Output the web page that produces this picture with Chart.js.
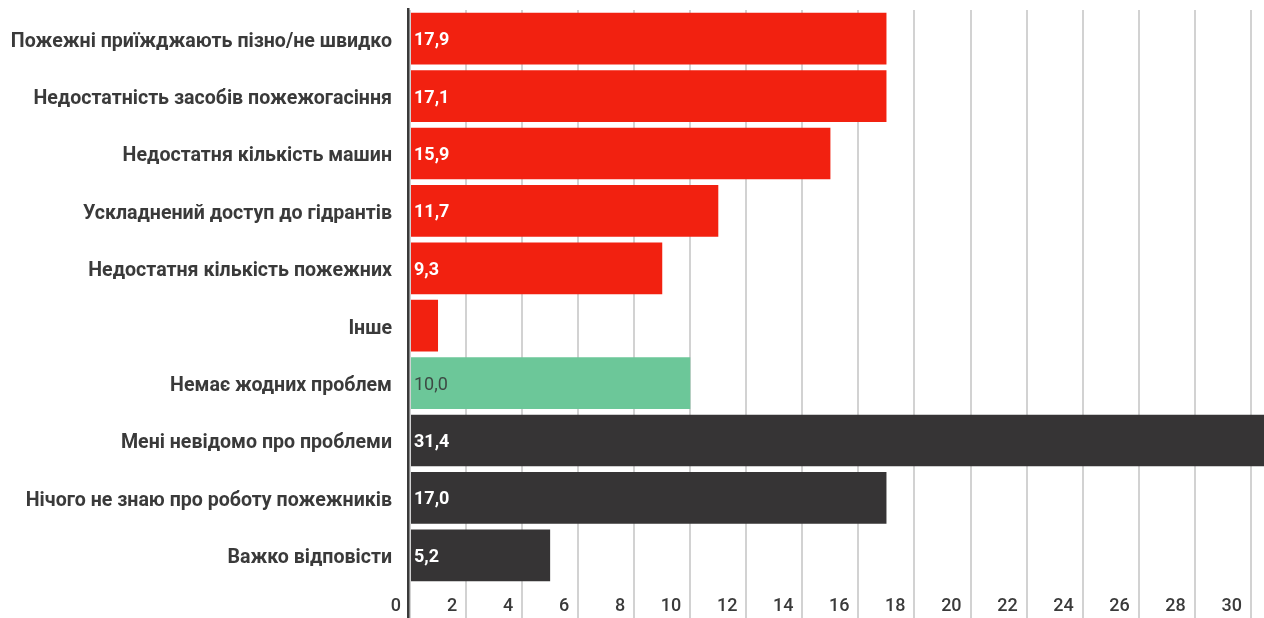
<!DOCTYPE html>
<html>
<head>
<meta charset="utf-8">
<script src="https://cdn.jsdelivr.net/npm/chart.js@4.4.1/dist/chart.umd.min.js"></script>
<style>
  html, body { margin: 0; padding: 0; background: #fff; }
  .chart-container { position: relative; width: 1264px; height: 618px; }
</style>
</head>
<body>
<div class="chart-container">
  <canvas id="fireChart"></canvas>
</div>
<script>
// категорії (зверху вниз)
const categories = [
  'Пожежні приїжджають пізно/не швидко',
  'Недостатність засобів пожежогасіння',
  'Недостатня кількість машин',
  'Ускладнений доступ до гідрантів',
  'Недостатня кількість пожежних',
  'Інше',
  'Немає жодних проблем',
  'Мені невідомо про проблеми',
  'Нічого не знаю про роботу пожежників',
  'Важко відповісти'
];

// підписи на стовпчиках, %
const shares = [17.9, 17.1, 15.9, 11.7, 9.3, null, 10.0, 31.4, 17.0, 5.2];

// довжина стовпчиків так, як вони намальовані на картинці
const barLengths = [17, 17, 15, 11, 9, 1, 10, 31.4, 17, 5];

// групи: проблема / немає проблем / не знаю
const groups = ['problem', 'problem', 'problem', 'problem', 'problem', 'problem', 'none', 'unknown', 'unknown', 'unknown'];

// підписи осі
const axisMin = 0;
const axisMax = 30.47;
const axisStep = 2;

const groupColors = { problem: '#f22110', none: '#6cc799', unknown: '#363435' };
const FONT = 'Roboto, "Noto Sans", sans-serif';

// підписи значень всередині стовпчиків + вертикальна вісь
const valueLabels = {
  id: 'valueLabels',
  afterDatasetsDraw(chart) {
    const ctx = chart.ctx;
    const meta = chart.getDatasetMeta(0);
    ctx.save();
    ctx.textBaseline = 'middle';
    ctx.textAlign = 'left';
    meta.data.forEach((bar, i) => {
      if (shares[i] == null) return;
      const txt = shares[i].toFixed(1).replace('.', ',');
      if (groups[i] === 'none') {
        ctx.fillStyle = '#3d4a44';
        ctx.font = '400 18px ' + FONT;
      } else {
        ctx.fillStyle = '#ffffff';
        ctx.font = 'bold 18px ' + FONT;
      }
      ctx.fillText(txt, bar.base + 3, bar.y + 2);
    });
    const x0 = chart.scales.x.getPixelForValue(0);
    ctx.fillStyle = '#3a3a3a';
    ctx.fillRect(x0 - 3, chart.chartArea.top - 2, 2.5, chart.height - chart.chartArea.top + 2);
    ctx.restore();
  }
};

const ctx = document.getElementById('fireChart').getContext('2d');
new Chart(ctx, {
  type: 'bar',
  data: {
    labels: categories,
    datasets: [{
      data: barLengths,
      backgroundColor: groups.map(g => groupColors[g]),
      borderWidth: 0,
      categoryPercentage: 0.9,
      barPercentage: 1.0
    }]
  },
  options: {
    indexAxis: 'y',
    responsive: true,
    maintainAspectRatio: false,
    animation: false,
    layout: { padding: { top: 10, right: 0, bottom: 0, left: 0 } },
    plugins: {
      legend: { display: false },
      tooltip: { enabled: false }
    },
    scales: {
      x: {
        min: axisMin,
        max: axisMax,
        afterFit: s => { s.height = 34; s.paddingLeft = 0; s.paddingRight = 0; },
        grid: {
          color: '#d2d2d2',
          lineWidth: 2,
          drawTicks: true,
          tickLength: 34
        },
        border: { display: false },
        ticks: {
          stepSize: axisStep,
          includeBounds: false,
          align: 'end',
          padding: -22,
          color: '#3a3a3a',
          font: { family: FONT, size: 18, weight: '500' },
          callback: v => v + '  '
        }
      },
      y: {
        afterFit: s => { s.width = 410; s.paddingTop = 0; s.paddingBottom = 0; },
        grid: { display: false, drawTicks: false },
        border: { display: false },
        ticks: {
          padding: 18,
          labelOffset: 3,
          color: '#3a3a3a',
          font: { family: FONT, size: 19.6, weight: 'bold' }
        }
      }
    }
  },
  plugins: [valueLabels]
});
</script>
</body>
</html>
